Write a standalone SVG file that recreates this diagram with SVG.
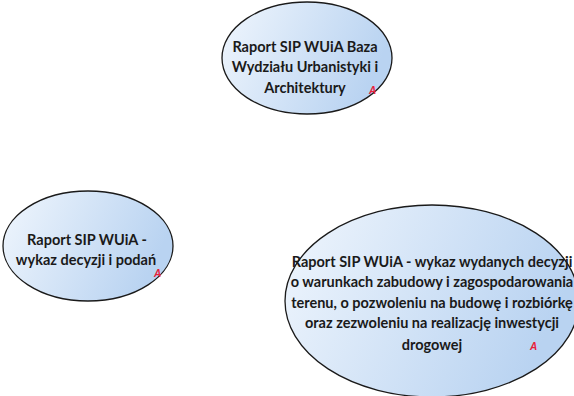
<svg xmlns="http://www.w3.org/2000/svg" width="574" height="396" viewBox="0 0 574 396">
<defs>
<linearGradient id="g" x1="0" y1="0" x2="1" y2="0.3">
<stop offset="0" stop-color="#f0f6fd"/>
<stop offset="1" stop-color="#b9d3f1"/>
</linearGradient>
<style>
.n{fill:url(#g);stroke:#1a1a1a;stroke-width:1.3}
.t{font-family:Lato,"Open Sans","Liberation Sans",sans-serif;font-weight:bold;font-size:14.5px;fill:#1a1a1a;text-anchor:middle}
.a{font-family:"Liberation Sans",sans-serif;font-weight:bold;font-style:italic;font-size:10px;fill:#e8203a}
</style>
</defs>
<rect width="574" height="396" fill="#ffffff"/>
<g id="node1">
<ellipse class="n" cx="307" cy="58" rx="85" ry="56"/>
<text class="t" x="305" y="52">Raport SIP WUiA Baza</text>
<text class="t" x="305" y="72">Wydziału Urbanistyki i</text>
<text class="t" x="305" y="93">Architektury</text>
<text class="a" x="369" y="94">A</text>
</g>
<g id="node2">
<ellipse class="n" cx="88" cy="246" rx="85" ry="55"/>
<text class="t" x="87" y="245">Raport SIP WUiA -</text>
<text class="t" x="86" y="265">wykaz decyzji i podań</text>
<text class="a" x="154" y="277">A</text>
</g>
<g id="node3">
<ellipse class="n" cx="432" cy="301" rx="147" ry="96"/>
<text class="t" x="432" y="267">Raport SIP WUiA - wykaz wydanych decyzji</text>
<text class="t" x="432" y="287">o warunkach zabudowy i zagospodarowania</text>
<text class="t" x="432" y="308">terenu, o pozwoleniu na budowę i rozbiórkę</text>
<text class="t" x="432" y="328">oraz zezwoleniu na realizację inwestycji</text>
<text class="t" x="432" y="350">drogowej</text>
<text class="a" x="530" y="350">A</text>
</g>
<g id="connectors"/>
</svg>
